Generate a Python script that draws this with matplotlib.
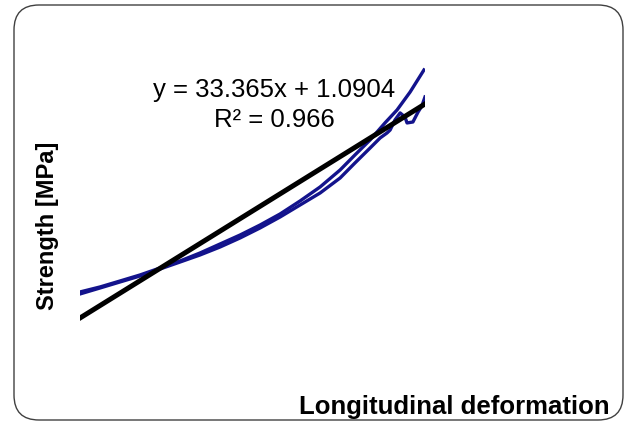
import numpy as np
import matplotlib.pyplot as plt
from matplotlib.patches import FancyBboxPatch
from matplotlib.transforms import IdentityTransform

plt.rcParams['font.family'] = ['Liberation Sans', 'DejaVu Sans']

# --- Data ---
# deformation (x) and strength [MPa] (y) for two measured samples
deform_a = [0.0, 0.0058, 0.0116, 0.0174, 0.0232, 0.0290, 0.0348, 0.0406, 0.0464,
            0.0522, 0.0580, 0.0638, 0.0696, 0.0754, 0.0797, 0.0841, 0.0884,
            0.0919, 0.0957, 0.0997]
strength_a = [1.496, 1.574, 1.667, 1.761, 1.870, 1.979, 2.104, 2.244, 2.384,
              2.540, 2.712, 2.915, 3.133, 3.398, 3.632, 3.866, 4.131, 4.333,
              4.614, 4.957]

deform_b = [0.0, 0.0058, 0.0116, 0.0174, 0.0232, 0.0290, 0.0348, 0.0406, 0.0464,
            0.0522, 0.0580, 0.0638, 0.0696, 0.0754, 0.0797, 0.0841, 0.0870,
            0.0890, 0.0899, 0.0913, 0.0928, 0.0942, 0.0948, 0.0965, 0.0980,
            0.0991, 0.1000]
strength_b = [1.465, 1.558, 1.652, 1.745, 1.854, 1.963, 2.073, 2.197, 2.338,
              2.494, 2.665, 2.852, 3.039, 3.273, 3.507, 3.741, 3.897, 3.975,
              4.021, 4.177, 4.287, 4.224, 4.131, 4.146, 4.302, 4.396, 4.536]

# linear trendline shown on the chart
slope = 33.365
intercept = 1.0904
r_squared = 0.966
trend_x = [0.0, 0.1]

curve_color = '#13138c'

fig = plt.figure(figsize=(6.27, 4.23), dpi=100)

# rounded frame around the chart area (pixel coordinates)
frame = FancyBboxPatch((14, 3), 609, 415,
                       boxstyle="round,pad=0,rounding_size=25",
                       transform=IdentityTransform(), fill=False,
                       edgecolor='#404040', linewidth=1.0)
fig.patches.append(frame)

ax = fig.add_axes([0.1276, 0.2194, 0.5502, 0.6369])
ax.plot(deform_a, strength_a, color=curve_color, linewidth=2.4)
ax.plot(deform_b, strength_b, color=curve_color, linewidth=2.4)

tx = np.array(trend_x)
ax.plot(tx, slope * tx + intercept, color='black', linewidth=3.6)

ax.set_xlim(0, 0.1)
ax.set_ylim(0.9, 5.1)
ax.axis('off')

fig.text(0.437, 0.787, f"y = {slope}x + {intercept}", ha='center', va='center',
         fontsize=18.5)
fig.text(0.438, 0.716, f"R² = {r_squared}", ha='center', va='center',
         fontsize=18.5)

fig.text(0.075, 0.466, "Strength [MPa]", rotation=90, ha='center', va='center',
         fontsize=17, fontweight='bold')
fig.text(0.724, 0.038, "Longitudinal deformation", ha='center', va='center',
         fontsize=18.5, fontweight='bold')

fig.savefig('out.png', dpi=100)
